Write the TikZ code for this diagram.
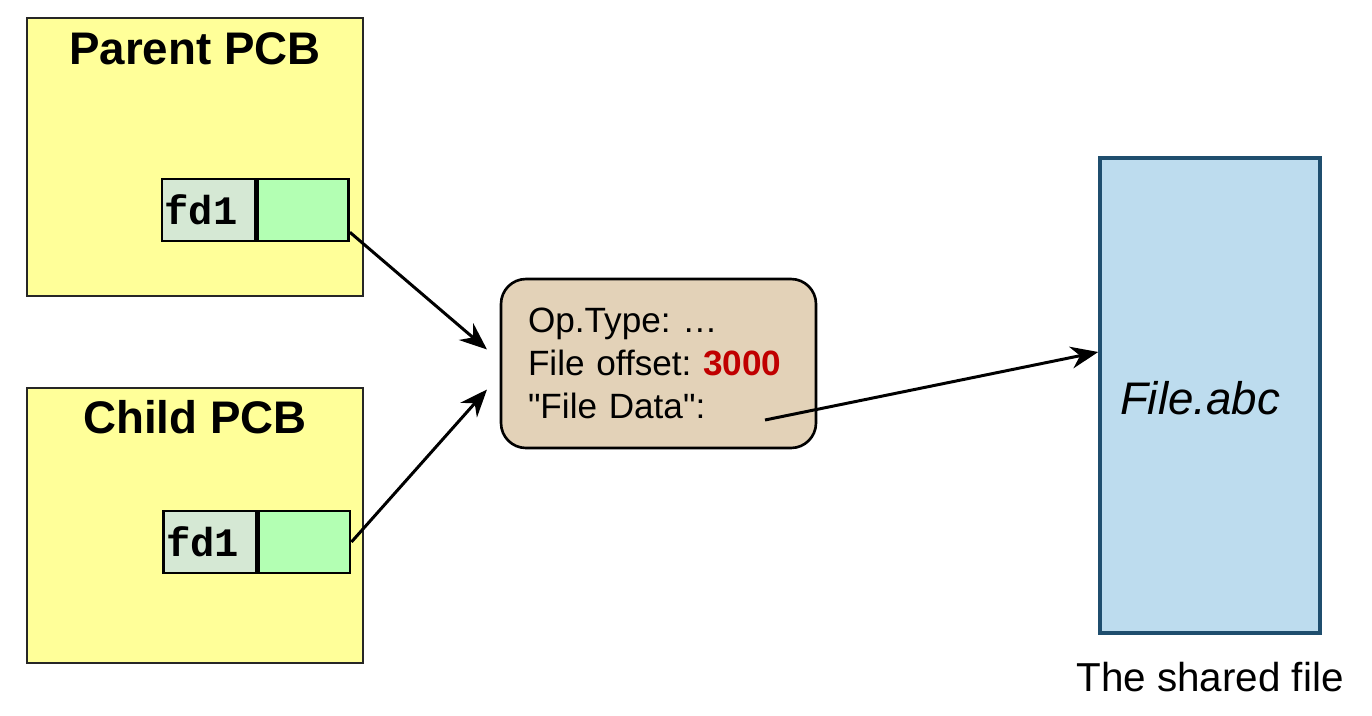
\documentclass[tikz,border=0pt]{standalone}
\usepackage{fontspec}
\setmainfont{Liberation Sans}[Ligatures=TeXOff]
\setmonofont{Liberation Mono}
\usepackage{tikz}
\usetikzlibrary{arrows.meta, positioning}
\definecolor{PcbYellow}{HTML}{FFFF99}
\definecolor{FdNameGrey}{HTML}{D5E8D4}
\definecolor{FdSlotGreen}{HTML}{B3FFB3}
\definecolor{EntryTan}{HTML}{E3D2B8}
\definecolor{OffsetRed}{HTML}{C00000}
\definecolor{FileBlue}{HTML}{BDDCEE}
\definecolor{FileEdge}{HTML}{1F4E6E}
\frenchspacing

\begin{document}
\begin{tikzpicture}[
  pcb/.style={draw=black!85, line width=1pt, fill=PcbYellow, minimum width=6.72cm, inner sep=0pt},
  pcbtitle/.style={font=\fontsize{26}{30}\selectfont\bfseries, inner sep=0pt},
  fdname/.style={draw, line width=1.5pt, fill=FdNameGrey, text width=1.76cm, inner xsep=0.05cm, align=left, minimum height=1.24cm, font=\fontsize{23}{26}\selectfont\ttfamily\bfseries},
  fdslot/.style={draw, line width=1.5pt, fill=FdSlotGreen, minimum width=1.82cm, minimum height=1.24cm, inner sep=0pt, anchor=west},
  link/.style={draw=black, line width=1.7pt, -{Stealth[length=5.5mm, width=4.4mm, inset=1.8mm]}}
]
  \useasboundingbox (0,0) rectangle (27.44,-14.32);

  % parent side
  \node[pcb, minimum height=5.56cm] (pcbP) at (3.9,-3.14) {};
  \node[pcbtitle] (titleP) at (3.9,-0.98) {Parent PCB};
  \node[fdname] (fdP) at (4.17,-4.2) {fd1};
  \node[fdslot] (slotP) at (fdP.east) {};

  % child side
  \node[pcb, minimum height=5.5cm] (pcbC) at (3.9,-10.51) {};
  \node[pcbtitle] (titleC) at (3.9,-8.34) {Child PCB};
  \node[fdname] (fdC) at (4.2,-10.84) {fd1};
  \node[fdslot] (slotC) at (fdC.east) {};

  % open file entry
  \node[draw, line width=1.5pt, fill=EntryTan, rounded corners=0.5cm, text width=5.22cm, inner xsep=0.54cm, minimum height=3.38cm, align=left, font=\fontsize{20}{24.5}\selectfont] (entry) at (13.17,-7.27)
    {Op.Type: …\\File offset: \textbf{\color{OffsetRed}3000}\\"File Data":};

  % the file itself
  \node[draw=FileEdge, line width=2pt, fill=FileBlue, minimum width=4.4cm, minimum height=9.5cm] (file) at (24.2,-7.91) {};
  \node[font=\fontsize{26}{30}\selectfont\itshape] (filename) at ([xshift=-0.2cm, yshift=-0.06cm]file.center) {File.abc};
  \node[below=0.55cm of file, inner sep=0pt, font=\fontsize{23}{27}\selectfont] (sharedlabel) {The shared file};

  %arrow ends
  \coordinate (inP) at (9.74,-6.99);
  \coordinate (inC) at (9.74,-7.79);
  \coordinate (dataStart) at (15.3,-8.4);

  \draw[link] ([yshift=0.2cm]slotP.south east) -- (inP);
  \draw[link] (slotC.east) -- (inC);
  \draw[link] (dataStart) -- ([yshift=0.87cm]file.west);
\end{tikzpicture}
\end{document}
